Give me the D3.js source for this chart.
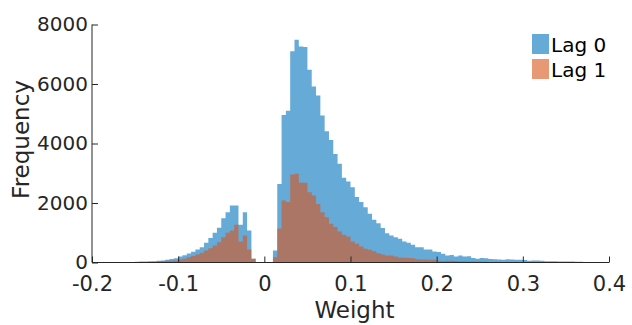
<!DOCTYPE html>
<html>
<head>
<meta charset="utf-8">
<script src="https://cdn.jsdelivr.net/npm/d3@7"></script>
<style>
  body { margin: 0; background: #fff; }
  svg { display: block; font-family: "DejaVu Sans", sans-serif; }
</style>
</head>
<body>
<div id="chart"></div>
<script>
// Histogram bins: start at -0.2, width 0.005, 120 bins
const binStart = -0.2;
const binWidth = 0.005;

const lag0 = [
  5, 5, 5, 8, 8, 10, 12, 15, 18, 20,
  25, 30, 35, 40, 45, 55, 65, 95, 120, 145,
  200, 240, 300, 360, 440, 515, 660, 820, 1000, 1165,
  1490, 1690, 1920, 1920, 1265, 1690, 1075, 125, 0, 0,
  0, 0, 400, 2640, 4960, 5100, 7100, 7490, 7260, 7240,
  6480, 5920, 5610, 4940, 4410, 4120, 3650, 3320, 2850, 2720,
  2530, 2200, 2030, 1860, 1640, 1440, 1320, 1160, 985, 910,
  850, 795, 705, 660, 595, 515, 515, 440, 440, 370,
  350, 290, 235, 255, 200, 235, 200, 210, 155, 125,
  155, 140, 118, 110, 100, 90, 110, 105, 95, 90,
  80, 60, 70, 65, 60, 45, 40, 40, 35, 35,
  30, 30, 25, 25, 20, 20, 20, 15, 15, 10
];

const lag1 = [
  2, 2, 3, 3, 4, 5, 5, 6, 8, 10,
  12, 15, 18, 20, 25, 35, 45, 55, 60, 70,
  100, 125, 180, 220, 270, 325, 400, 480, 570, 680,
  850, 1000, 1075, 1265, 705, 910, 440, 125, 0, 0,
  0, 0, 180, 1140, 2080, 2030, 2960, 2980, 2680, 2680,
  2360, 2250, 1970, 1690, 1520, 1300, 1190, 1040, 930, 870,
  710, 630, 540, 460, 430, 380, 310, 270, 235, 235,
  200, 170, 160, 150, 140, 110, 100, 100, 90, 90,
  60, 50, 55, 60, 50, 45, 40, 35, 30, 30,
  25, 25, 20, 20, 18, 15, 15, 12, 12, 10,
  10, 8, 8, 8, 6, 6, 5, 5, 5, 4,
  4, 3, 3, 3, 2, 2, 2, 2, 1, 1
];

const seriesNames = ["Lag 0", "Lag 1"];
const xTicks = [-0.2, -0.1, 0, 0.1, 0.2, 0.3, 0.4];
const yTicks = [0, 2000, 4000, 6000, 8000];

const width = 632;
const height = 325;
const marginTop = 24.5;
const marginRight = 23;
const marginBottom = 62.5;
const marginLeft = 92;

const axisColor = "#262626";
const colors = ["rgb(0,114,189)", "rgb(217,83,25)"];

const x = d3.scaleLinear()
  .domain([-0.2, 0.4])
  .range([marginLeft, width - marginRight]);

const y = d3.scaleLinear()
  .domain([0, 8000])
  .range([height - marginBottom, marginTop]);

const svg = d3.select("#chart")
  .append("svg")
  .attr("width", width)
  .attr("height", height)
  .attr("viewBox", [0, 0, width, height]);

// Histogram as a stepped area so adjacent bins have no seams
const area = d3.area()
  .curve(d3.curveStepAfter)
  .x(d => x(d.x0))
  .y0(y(0))
  .y1(d => y(d.c));

[lag0, lag1].forEach((counts, k) => {
  const pts = counts.map((c, i) => ({ x0: binStart + i * binWidth, c }));
  pts.push({ x0: binStart + counts.length * binWidth, c: counts[counts.length - 1] });
  svg.append("path")
    .datum(pts)
    .attr("fill", colors[k])
    .attr("fill-opacity", 0.6)
    .attr("d", area);
});

// X axis (ticks pointing in)
svg.append("g")
  .attr("transform", `translate(0,${y(0)})`)
  .call(d3.axisBottom(x).tickValues(xTicks).tickSize(-6).tickPadding(14)
    .tickFormat(d => d === 0 ? "0" : d3.format(".1f")(d).replace("−", "-")))
  .call(g => g.select(".domain").attr("stroke", axisColor).attr("d", `M${x(-0.2)},0H${x(0.4)}`))
  .call(g => g.selectAll(".tick line").attr("stroke", axisColor))
  .call(g => g.selectAll(".tick text")
    .attr("fill", axisColor)
    .attr("font-size", 21)
    .attr("font-family", "DejaVu Sans"));

// Y axis (ticks pointing in)
svg.append("g")
  .attr("transform", `translate(${marginLeft},0)`)
  .call(d3.axisLeft(y).tickValues(yTicks).tickSize(-6).tickPadding(4).tickFormat(d3.format("d")))
  .call(g => g.select(".domain").attr("stroke", axisColor).attr("d", `M0,${y(0)}V${y(8000)}`))
  .call(g => g.selectAll(".tick line").attr("stroke", axisColor))
  .call(g => g.selectAll(".tick text")
    .attr("fill", axisColor)
    .attr("font-size", 20)
    .attr("font-family", "DejaVu Sans"));

// Axis labels
svg.append("text")
  .attr("x", (x(-0.2) + x(0.4)) / 2 + 4)
  .attr("y", 318)
  .attr("text-anchor", "middle")
  .attr("font-size", 23)
  .attr("fill", axisColor)
  .text("Weight");

svg.append("text")
  .attr("transform", `translate(29,${(y(0) + y(8000)) / 2 - 4}) rotate(-90)`)
  .attr("text-anchor", "middle")
  .attr("font-size", 23)
  .attr("fill", axisColor)
  .text("Frequency");

// Legend
const legend = svg.append("g").attr("transform", "translate(532,34)");
seriesNames.forEach((name, k) => {
  const row = legend.append("g").attr("transform", `translate(0,${k * 25})`);
  row.append("rect")
    .attr("width", 17)
    .attr("height", 20)
    .attr("fill", colors[k])
    .attr("fill-opacity", 0.6);
  row.append("text")
    .attr("x", 19)
    .attr("y", 18)
    .attr("font-size", 20)
    .attr("fill", "#000")
    .text(name);
});
</script>
</body>
</html>
